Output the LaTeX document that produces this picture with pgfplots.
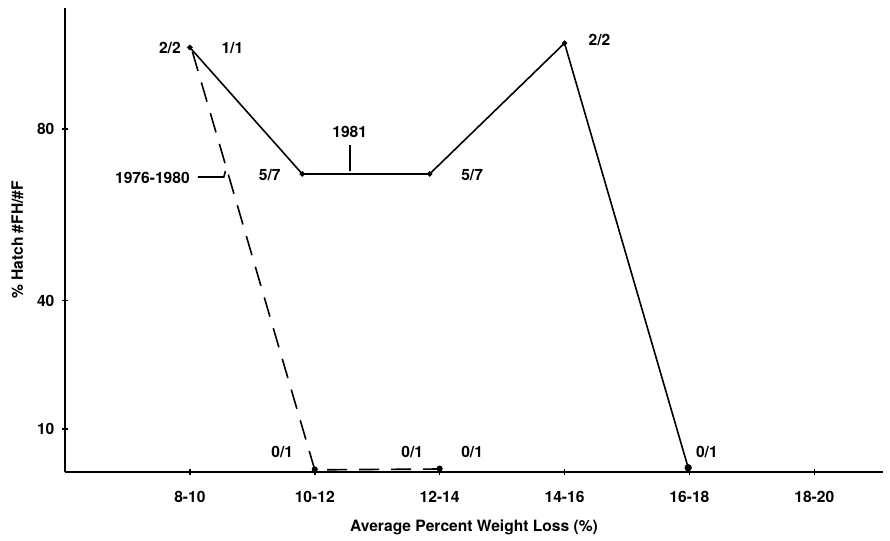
\documentclass[border=0pt]{standalone}
\usepackage{pgfplots}
\pgfplotsset{compat=1.18}
\usepackage{fontspec}
\setmainfont{TeX Gyre Heros}
\begin{document}
\fontsize{7.8pt}{9pt}\selectfont\bfseries
\begin{tikzpicture}
\begin{axis}[
  scale only axis,
  width=409pt, height=232pt,
  xmin=-1, xmax=5.55, ymin=0, ymax=108.2,
  axis x line=bottom, axis y line=left,
  axis line style={-, line width=0.9pt},
  xtick={0,1,2,3,4,5},
  xticklabels={8-10,10-12,12-14,14-16,16-18,18-20},
  ytick={10,40,80},
  tick align=center,
  major tick length=3pt,
  tick style={black, line width=0.8pt},
  /pgf/number format/assume math mode=true,
  ticklabel style={font=\fontsize{7.8pt}{9pt}\selectfont\bfseries},
  xticklabel style={yshift=-5.5pt},
  yticklabel style={xshift=-1pt},
  xlabel={Average Percent Weight Loss (\%)},
  ylabel={\% Hatch \#FH/\#F},
  label style={font=\fontsize{7.8pt}{9pt}\selectfont\bfseries},
  xlabel style={yshift=-3pt},
  ylabel style={yshift=1.5pt},
  clip=false,
]
% 1981 (solid)
\addplot[black, line width=0.8pt, mark=*, mark size=0.9pt] coordinates {
  (0,99) (0.9,69.5) (1.92,69.5) (3,100) (3.99,1)
};
% 1976-1980 (dashed)
\addplot[black, line width=0.8pt, dash pattern=on 10pt off 6pt] coordinates {
  (0.02,98) (1,0.5) (2,0.7)
};
\addplot[black, only marks, mark=*, mark size=1.6pt] coordinates {(3.99,1)};
\addplot[black, only marks, mark=*, mark size=1.3pt] coordinates {(1,0.6) (2,0.8)};

\node at (axis cs:-0.16,98.8) {2/2};
\node at (axis cs:0.34,98.8) {1/1};
\node at (axis cs:0.64,69.2) {5/7};
\node at (axis cs:1.28,79.3) {1981};
\draw[line width=0.8pt] (axis cs:1.28,76.2) -- (axis cs:1.28,70.2);
\node at (axis cs:2.26,69.2) {5/7};
\node at (axis cs:3.28,100.7) {2/2};
\node at (axis cs:-0.30,68.5) {1976-1980};
\draw[line width=0.8pt] (axis cs:0.064,68.8) -- (axis cs:0.272,68.8) -- (axis cs:0.285,70.2);
\node at (axis cs:0.74,4.7) {0/1};
\node at (axis cs:1.78,4.7) {0/1};
\node at (axis cs:2.26,4.7) {0/1};
\node at (axis cs:4.14,4.7) {0/1};
\end{axis}
\path[use as bounding box] (-32.5pt,-33pt) rectangle (412.5pt,236pt);
\end{tikzpicture}
\end{document}
